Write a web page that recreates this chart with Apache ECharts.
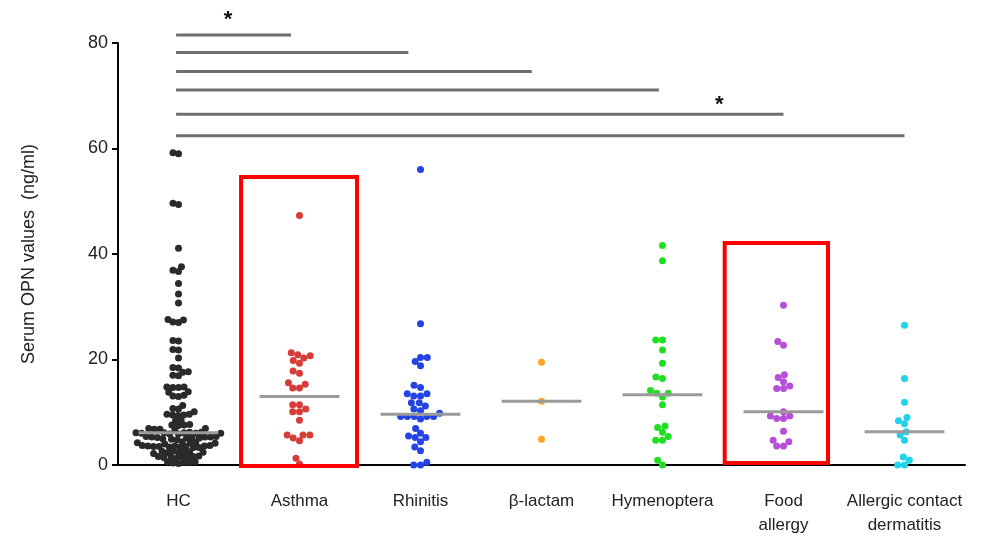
<!DOCTYPE html>
<html>
<head>
<meta charset="utf-8">
<script src="https://cdn.jsdelivr.net/npm/echarts@6/dist/echarts.min.js"></script>
<style>
  html, body { margin: 0; padding: 0; background: #fff; }
  #main { width: 981px; height: 541px; }
</style>
</head>
<body>
<div id="main"></div>
<script>
// Groups shown on the x axis
const categories = ['HC', 'Asthma', 'Rhinitis', 'β-lactam', 'Hymenoptera', 'Food\nallergy', 'Allergic contact\ndermatitis'];

// Serum OPN values (ng/ml), one array per group
const hcValues = [
  59.2, 59.0, 49.6, 49.4, 41.1, 37.6, 36.9, 36.7, 34.4, 32.4, 30.7, 27.6, 27.0, 27.1, 27.5,
  23.6, 23.5, 21.9, 21.8, 20.3, 18.4, 18.5, 17.6, 17.7, 16.9, 17.0, 14.8, 14.7, 14.7, 14.8,
  13.8, 13.9, 13.1, 13.2, 13.0,
  11.3, 10.7, 10.6, 10.1, 9.6, 9.5, 9.4, 9.5, 9.6, 8.4, 8.5, 7.7, 7.6, 7.5, 7.6, 6.9, 6.8, 6.8, 6.7, 6.9,
  6.2, 6.1, 6.0, 6.1, 6.2, 6.0, 5.9, 6.1, 6.0, 5.9,
  5.4, 5.3, 5.2, 5.4, 5.3, 5.1, 5.2, 5.0, 5.3, 5.1, 4.9, 4.8,
  4.3, 4.2, 4.1, 4.4, 4.0, 4.2,
  3.7, 3.6, 3.5, 3.6, 3.4, 3.5, 3.3, 3.7, 3.4, 3.5, 3.6, 3.3,
  2.6, 2.5, 2.4, 2.3, 2.5, 2.4, 2.6, 2.2,
  1.6, 1.5, 1.4, 1.6, 1.5, 1.3, 1.5, 1.7,
  0.6, 0.5, 0.4, 0.5, 0.3, 0.6
];
const asthmaValues = [47.3, 21.3, 20.9, 20.7, 20.3, 19.8, 19.3, 17.8, 17.4, 15.6, 15.3, 14.6, 14.6,
  11.4, 11.4, 10.6, 10.1, 10.1, 8.5, 5.7, 5.7, 5.7, 5.1, 4.6, 1.3, 0.2];
const rhinitisValues = [56.0, 26.8, 20.4, 20.4, 19.6, 18.8, 15.1, 14.7, 13.5, 13.5, 13.1, 13.1,
  11.8, 11.8, 11.2, 10.6, 10.3, 9.8, 9.2, 9.2, 9.2, 9.2, 9.2, 8.7, 6.9, 6.0, 5.5, 5.2, 5.2, 4.4,
  3.4, 2.7, 0.5, 0.0, 0.0];
const betaLactamValues = [19.5, 12.1, 4.9];
const hymenopteraValues = [41.6, 38.7, 23.7, 23.7, 21.8, 19.3, 16.7, 16.4, 14.1, 13.6, 13.6, 12.9,
  11.4, 7.4, 7.1, 6.2, 5.4, 4.7, 4.7, 0.9, 0.0];
const foodAllergyValues = [30.3, 23.4, 22.7, 17.1, 16.6, 15.8, 15.0, 14.5, 14.5, 10.1, 9.3, 9.3,
  8.8, 8.8, 6.4, 4.7, 4.4, 3.6, 3.6];
const contactDermatitisValues = [26.5, 16.4, 11.9, 9.0, 8.4, 7.8, 6.3, 5.7, 4.7, 1.5, 0.9, 0.0, 0.0];

// Median of each group
const medians = [6.1, 13.0, 9.6, 12.1, 13.3, 10.1, 6.3];

// Y axis ticks
const yTicks = { min: 0, max: 80, interval: 20 };

// Comparison bars from HC: level (ng/ml) and the group index where each bar ends
const compareLevels = [81.5, 78.2, 74.6, 71.1, 66.5, 62.4];
const compareEnds = [0.93, 1.9, 2.92, 3.97, 5.0, 6.0];
// Significance marks: [group position, level]
const starMarks = [[0.41, 84.3], [4.47, 68.2]];

// Highlighted groups: [from, to, bottom, top] in group index / ng/ml
const highlightBoxes = [[0.517, 1.475, -0.2, 54.6], [4.514, 5.368, 0.4, 42.1]];

const groupValues = [hcValues, asthmaValues, rhinitisValues, betaLactamValues,
  hymenopteraValues, foodAllergyValues, contactDermatitisValues];
const groupColors = ['#2a2a2a', '#d63c38', '#2443e4', '#ffa41f', '#22de22', '#b650d8', '#1fd3ea'];
// Minimum centre distance between dots of a group, in pixels
const dotSpacing = [5.6, 6.8, 6.8, 6.8, 6.8, 6.8, 6.8];

const FONT = 'Liberation Sans, Arial, sans-serif';
const chart = echarts.init(document.getElementById('main'));

const grid = { left: 118, right: 16, top: 43, bottom: 76 };

const option = {
  animation: false,
  backgroundColor: '#fff',
  grid: grid,
  xAxis: [
    {
      type: 'category',
      data: categories,
      axisLine: { onZero: false, lineStyle: { color: '#000', width: 2 } },
      axisTick: { alignWithLabel: true, length: 6, lineStyle: { color: '#000', width: 2 } },
      axisLabel: { color: '#222', fontSize: 17, fontFamily: FONT, margin: 24, lineHeight: 24, interval: 0 },
      splitLine: { show: false }
    },
    { type: 'value', min: -0.5, max: 6.5, show: false }
  ],
  yAxis: {
    type: 'value',
    min: yTicks.min, max: yTicks.max, interval: yTicks.interval,
    name: 'Serum OPN values  (ng/ml)',
    nameLocation: 'middle',
    nameGap: 80,
    nameTextStyle: { color: '#222', fontSize: 18, fontFamily: FONT },
    axisLine: { show: true, onZero: false, lineStyle: { color: '#000', width: 2 } },
    axisTick: { show: true, length: 6, lineStyle: { color: '#000', width: 2 } },
    axisLabel: { color: '#222', fontSize: 18, fontFamily: FONT, margin: 10 },
    splitLine: { show: false }
  },
  series: []
};

function buildSeries(offsets) {
  const series = [];
  groupValues.forEach(function (vals, g) {
    series.push({
      type: 'scatter',
      xAxisIndex: 1,
      symbolSize: 7,
      itemStyle: { color: groupColors[g], opacity: 1 },
      z: 3,
      data: vals.map(function (v, k) { return [g + (offsets ? offsets[g][k] : 0), v]; })
    });
  });
  // Median lines
  series.push({
    type: 'custom', xAxisIndex: 1, z: 4,
    data: medians.map(function (m, i) { return [i, m]; }),
    renderItem: function (params, api) {
      const p0 = api.coord([api.value(0) - 0.33, api.value(1)]);
      const p1 = api.coord([api.value(0) + 0.33, api.value(1)]);
      return { type: 'line', shape: { x1: p0[0], y1: p0[1], x2: p1[0], y2: p1[1] },
        style: { stroke: '#9a9a9a', lineWidth: 3 } };
    }
  });
  // Comparison bars
  series.push({
    type: 'custom', xAxisIndex: 1, z: 4, clip: false,
    data: compareLevels.map(function (y, i) { return [0, compareEnds[i], y]; }),
    renderItem: function (params, api) {
      const p0 = api.coord([-0.02, api.value(2)]);
      const p1 = api.coord([api.value(1), api.value(2)]);
      return { type: 'line', shape: { x1: p0[0], y1: p0[1], x2: p1[0], y2: p1[1] },
        style: { stroke: '#6e6e6e', lineWidth: 3 } };
    }
  });
  // Significance stars
  series.push({
    type: 'custom', xAxisIndex: 1, z: 5, clip: false,
    data: starMarks,
    renderItem: function (params, api) {
      const p = api.coord([api.value(0), api.value(1)]);
      return { type: 'text', x: p[0], y: p[1],
        style: { text: '*', fill: '#111', font: 'bold 22px ' + FONT, align: 'center', verticalAlign: 'middle' } };
    }
  });
  // Highlight boxes
  series.push({
    type: 'custom', xAxisIndex: 1, z: 10, clip: false,
    data: highlightBoxes,
    renderItem: function (params, api) {
      const a = api.coord([api.value(0), api.value(3)]);
      const b = api.coord([api.value(1), api.value(2)]);
      return { type: 'rect', shape: { x: a[0], y: a[1], width: b[0] - a[0], height: b[1] - a[1] },
        style: { fill: 'none', stroke: '#ff0000', lineWidth: 4 } };
    }
  });
  return series;
}

option.series = buildSeries(null);
chart.setOption(option);

// Spread overlapping dots sideways (beeswarm), working in pixels
const band = chart.convertToPixel({ xAxisIndex: 1 }, 1) - chart.convertToPixel({ xAxisIndex: 1 }, 0);
const offsets = groupValues.map(function (vals, g) {
  const D = dotSpacing[g];
  const order = vals.map(function (v, k) { return k; }).sort(function (a, b) { return vals[a] - vals[b]; });
  const placed = [];
  const off = new Array(vals.length).fill(0);
  order.forEach(function (k) {
    const py = chart.convertToPixel({ yAxisIndex: 0 }, vals[k]);
    const blocks = [];
    placed.forEach(function (p) {
      const dy = Math.abs(p[1] - py);
      if (dy < D) {
        const w = Math.sqrt(D * D - dy * dy);
        blocks.push([p[0] - w, p[0] + w]);
      }
    });
    const cands = [0];
    blocks.forEach(function (b) { cands.push(b[0], b[1]); });
    cands.sort(function (a, b) { return Math.abs(a) - Math.abs(b); });
    let x = 0;
    for (let c = 0; c < cands.length; c++) {
      const cx = cands[c];
      if (blocks.every(function (b) { return cx <= b[0] + 1e-6 || cx >= b[1] - 1e-6; })) { x = cx; break; }
    }
    placed.push([x, py]);
    off[k] = x / band;
  });
  return off;
});

chart.setOption({ series: buildSeries(offsets) });
</script>
</body>
</html>
